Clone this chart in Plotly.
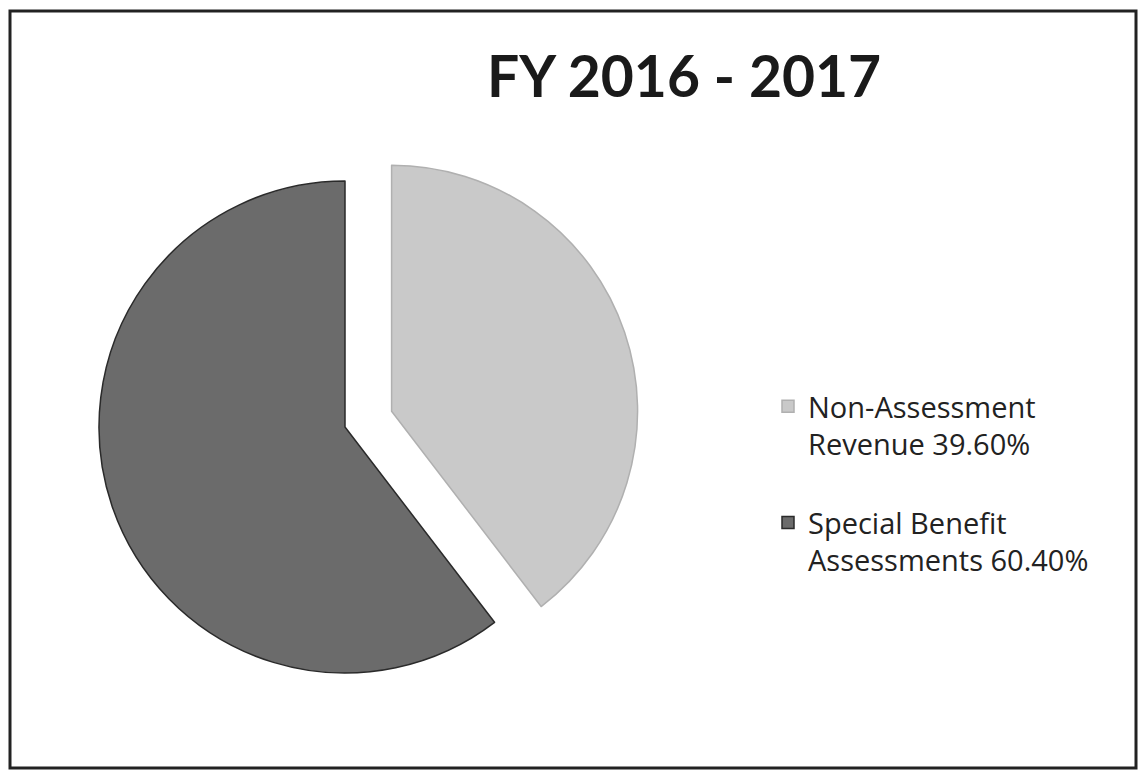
import plotly.graph_objects as go

# Revenue split for the fiscal year
title_text = "FY 2016 - 2017"
categories = ["Non-Assessment Revenue", "Special Benefit Assessments"]
shares = [39.60, 60.40]
slice_colors = ["#c9c9c9", "#6b6b6b"]
edge_colors = ["#b0b0b0", "#2a2a2a"]
pulls = [0.2, 0.0]

# Legend labels wrap the last word of each category onto a second line with its share;
# a blank trailing line keeps space between the two entries
labels = []
for i, (cat, val) in enumerate(zip(categories, shares)):
    head, tail = cat.rsplit(" ", 1)
    text = f"{head}<br>{tail} {val:.2f}%"
    if i < len(categories) - 1:
        text += "<br> "
    labels.append(text)

W, H = 1142, 770
cx, cy, r = 345, 427, 246
half = r * (1 + max(pulls))

fig = go.Figure(
    go.Pie(
        labels=labels,
        values=shares,
        sort=False,
        direction="clockwise",
        rotation=0,
        pull=pulls,
        textinfo="none",
        hoverinfo="label",
        marker=dict(colors=slice_colors, line=dict(color=edge_colors, width=1.5)),
        domain=dict(
            x=[(cx - half) / W, (cx + half) / W],
            y=[1 - (cy + half) / H, 1 - (cy - half) / H],
        ),
    )
)

fig.update_layout(
    width=W,
    height=H,
    margin=dict(l=0, r=0, t=0, b=0),
    paper_bgcolor="white",
    plot_bgcolor="white",
    font=dict(family="'Open Sans', Lato, sans-serif", color="#222222"),
    showlegend=True,
    legend=dict(
        x=768 / W,
        y=1 - 381 / H,
        xanchor="left",
        yanchor="top",
        valign="top",
        font=dict(size=29, color="#222222", family="'Open Sans', sans-serif"),
        bgcolor="rgba(0,0,0,0)",
    ),
    annotations=[
        dict(
            text=f"<b>{title_text}</b>",
            x=684 / W,
            y=1 - 75 / H,
            xref="paper",
            yref="paper",
            xanchor="center",
            yanchor="middle",
            showarrow=False,
            font=dict(size=57, color="#1a1a1a", family="Lato, sans-serif"),
        )
    ],
    shapes=[
        dict(
            type="rect",
            xref="paper",
            yref="paper",
            x0=10 / W,
            x1=1136 / W,
            y0=1 - 768 / H,
            y1=1 - 11 / H,
            line=dict(color="#222222", width=3),
            fillcolor="rgba(0,0,0,0)",
        )
    ],
)

fig.write_html("out.html")
